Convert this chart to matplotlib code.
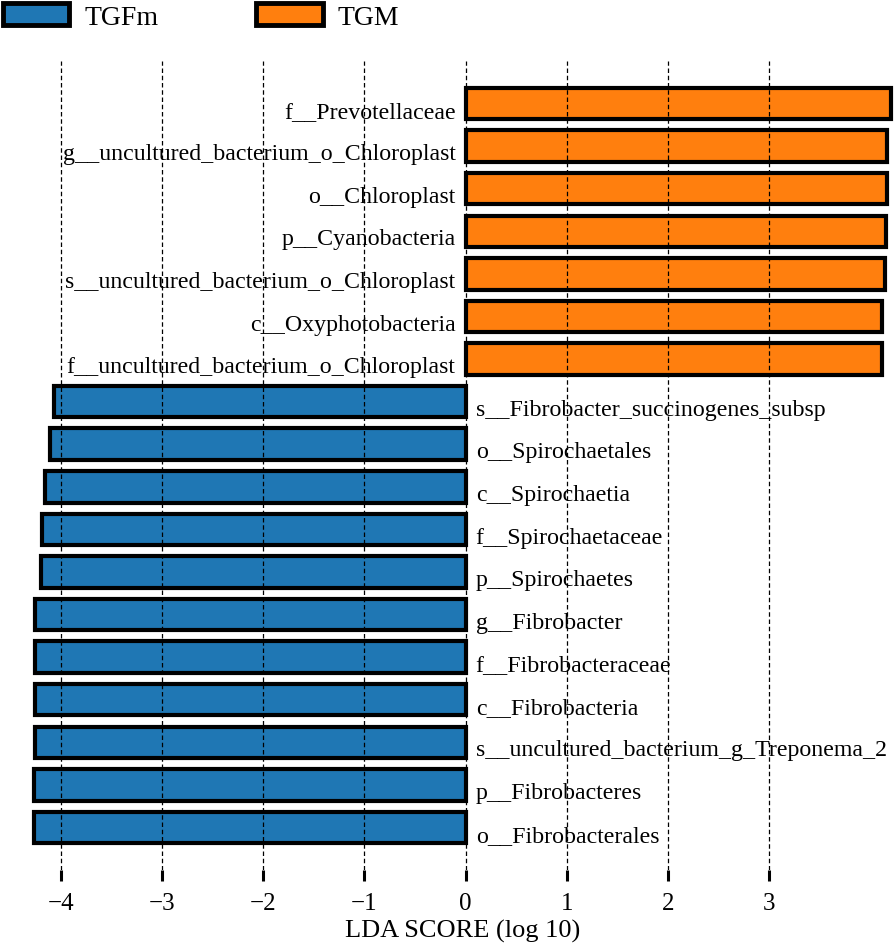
import matplotlib
matplotlib.use("Agg")
import matplotlib.pyplot as plt
from matplotlib.patches import Patch
import numpy as np

plt.rcParams["font.family"] = ["Liberation Serif", "DejaVu Serif"]

# top to bottom
tgm_names = [
    "f__Prevotellaceae",
    "g__uncultured_bacterium_o_Chloroplast",
    "o__Chloroplast",
    "p__Cyanobacteria",
    "s__uncultured_bacterium_o_Chloroplast",
    "c__Oxyphotobacteria",
    "f__uncultured_bacterium_o_Chloroplast",
]
tgm_lda = [4.20, 4.165, 4.165, 4.156, 4.14, 4.117, 4.114]

tgfm_names = [
    "s__Fibrobacter_succinogenes_subsp",
    "o__Spirochaetales",
    "c__Spirochaetia",
    "f__Spirochaetaceae",
    "p__Spirochaetes",
    "g__Fibrobacter",
    "f__Fibrobacteraceae",
    "c__Fibrobacteria",
    "s__uncultured_bacterium_g_Treponema_2",
    "p__Fibrobacteres",
    "o__Fibrobacterales",
]
tgfm_lda = [-4.065, -4.11, -4.16, -4.19, -4.20, -4.26, -4.26, -4.26, -4.26, -4.27, -4.27]

xticks = [-4, -3, -2, -1, 0, 1, 2, 3]
blue = "#1f77b4"
orange = "#ff7f0e"

fig = plt.figure(figsize=(8.96, 9.53), dpi=100)
ax = fig.add_axes([0.034, 0.086, 0.9657, 0.849])

n_top = len(tgm_names)
y_top = np.arange(n_top)
y_bot = np.arange(len(tgfm_names)) + n_top

ax.barh(y_top, tgm_lda, height=0.74, color=orange, edgecolor="black", linewidth=3)
ax.barh(y_bot, tgfm_lda, height=0.74, color=blue, edgecolor="black", linewidth=3)

for y, name in zip(y_top, tgm_names):
    ax.text(-0.1, y + 0.31, name, ha="right", va="baseline", fontsize=17.2)
for y, name in zip(y_bot, tgfm_names):
    ax.text(0.1, y + 0.31, name, ha="left", va="baseline", fontsize=17.2)

ax.set_xlim(-4.3, 4.25)
ax.set_ylim(18, -1)
ax.set_xticks(xticks)
ax.set_yticks([])
ax.tick_params(axis="x", direction="out", length=8, width=2.2, labelsize=18, pad=8)
for s in ax.spines.values():
    s.set_visible(False)
ax.set_axisbelow(False)
ax.grid(axis="x", color="black", linestyle=(0, (3.6, 2.2)), linewidth=0.9)
ax.set_xlabel("LDA SCORE (log 10)", fontsize=19, labelpad=3)

handles = [
    Patch(facecolor=blue, edgecolor="black", linewidth=3.5, label="TGFm"),
    Patch(facecolor=orange, edgecolor="black", linewidth=3.5, label="TGM"),
]
fig.legend(handles=handles, loc="upper left", bbox_to_anchor=(0.003, 0.9955), ncol=2,
           frameon=False, fontsize=20, handlelength=2.4, handleheight=0.8,
           handletextpad=0.55, columnspacing=3.5, borderpad=0, borderaxespad=0)

fig.savefig("out.png", dpi=100)
